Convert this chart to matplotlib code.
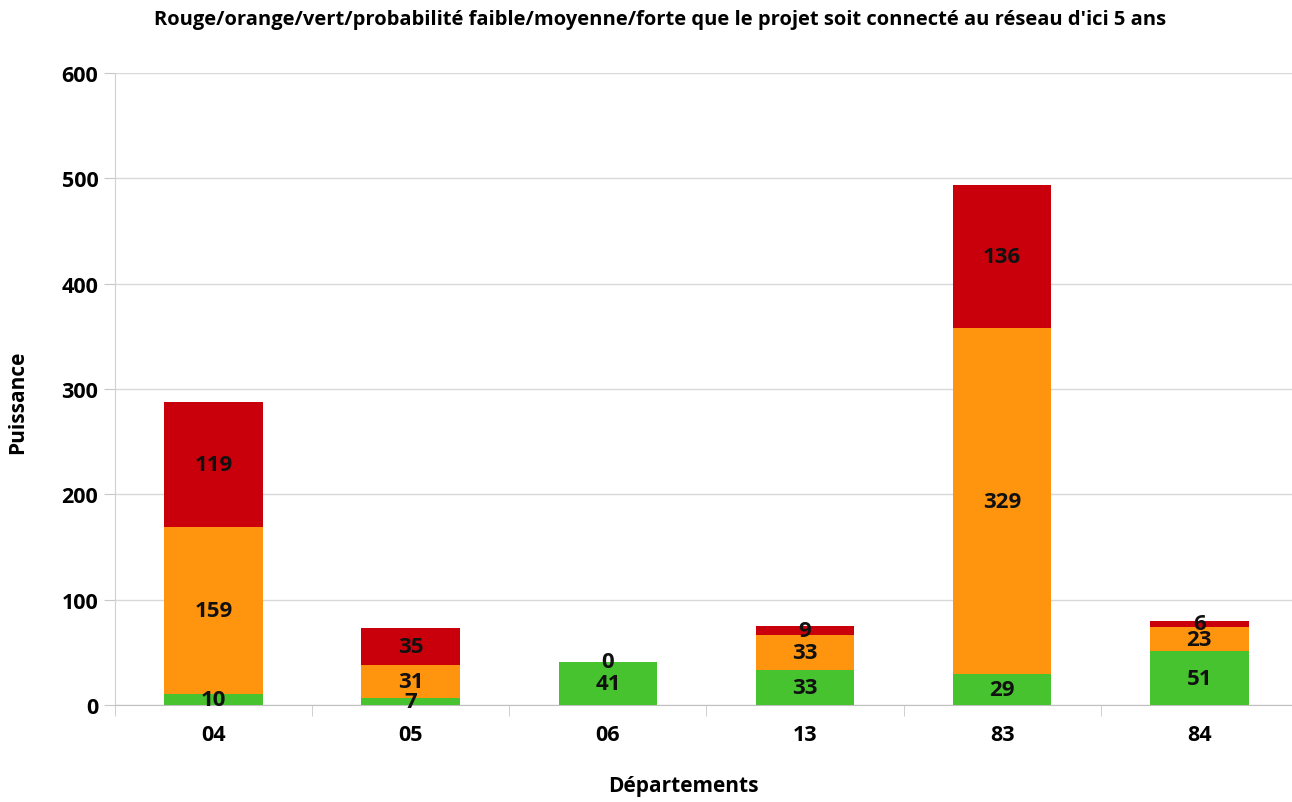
import numpy as np
import matplotlib
matplotlib.use("Agg")
import matplotlib.pyplot as plt
from matplotlib import font_manager

categories = ["04", "05", "06", "13", "83", "84"]
vert = [10, 7, 41, 33, 29, 51]
orange = [159, 31, 0, 33, 329, 23]
rouge = [119, 35, np.nan, 9, 136, 6]

names = {f.name for f in font_manager.fontManager.ttflist}
fam = ["Liberation Sans Narrow"] if "Liberation Sans Narrow" in names else ["Open Sans"]
plt.rcParams["font.family"] = fam + ["DejaVu Sans"]
plt.rcParams["font.weight"] = "bold"

fig = plt.figure(figsize=(12.92, 8.03), dpi=100)
ax = fig.add_axes([115/1292, 1 - 706/803, 1 - 115/1292, (706-74)/803])

x = np.arange(len(categories))
w = 0.5
v = np.array(vert, float)
o = np.array(orange, float)
r = np.array(rouge, float)
series = [(v, "#46C32F", np.zeros_like(v)),
          (o, "#FF950E", v),
          (r, "#C9000B", v + o)]
for vals, col, bottom in series:
    ax.bar(x, np.nan_to_num(vals), w, bottom=bottom, color=col, zorder=3)
    for xi, val, b in zip(x, vals, bottom):
        if np.isnan(val):
            continue
        ax.text(xi, b + val/2, f"{int(val)}", ha="center", va="center",
                fontsize=16, fontweight="bold", color="#111111", zorder=4)

ax.set_yticks(range(0, 601, 100))
ax.yaxis.grid(True, color="#d9d9d9", linewidth=1, zorder=0)
ax.set_xticks(x)
ax.set_xticklabels(categories)
ax.set_xticks(np.arange(-0.5, 5.0, 1), minor=True)
ax.set_ylim(0, 600)
ax.set_xlim(-0.5, 5.47)
ax.tick_params(axis="x", which="major", length=0, pad=14, labelsize=15.5)
ax.tick_params(axis="x", which="minor", length=8, color="#c8c8c8", direction="out")
ax.tick_params(axis="y", length=8, color="#c8c8c8", pad=4, labelsize=15.5)
for s in ["top", "right"]:
    ax.spines[s].set_visible(False)
ax.spines["left"].set_color("#d0d0d0")
ax.spines["bottom"].set_color("#c0c0c0")
for t in ax.get_xticklabels() + ax.get_yticklabels():
    t.set_fontweight("bold")

fig.text(660/1292, 1 - 20/803, "Rouge/orange/vert/probabilité faible/moyenne/forte que le projet soit connecté au réseau d'ici 5 ans",
         ha="center", va="center", fontsize=14.5, fontweight="bold")
fig.text(18/1292, 1 - 402/803, "Puissance", rotation=90, ha="center", va="center",
         fontsize=15, fontweight="bold")
fig.text(683/1292, 1 - 787/803, "Départements", ha="center", va="center",
         fontsize=15, fontweight="bold")

fig.savefig("out.png", dpi=100)
